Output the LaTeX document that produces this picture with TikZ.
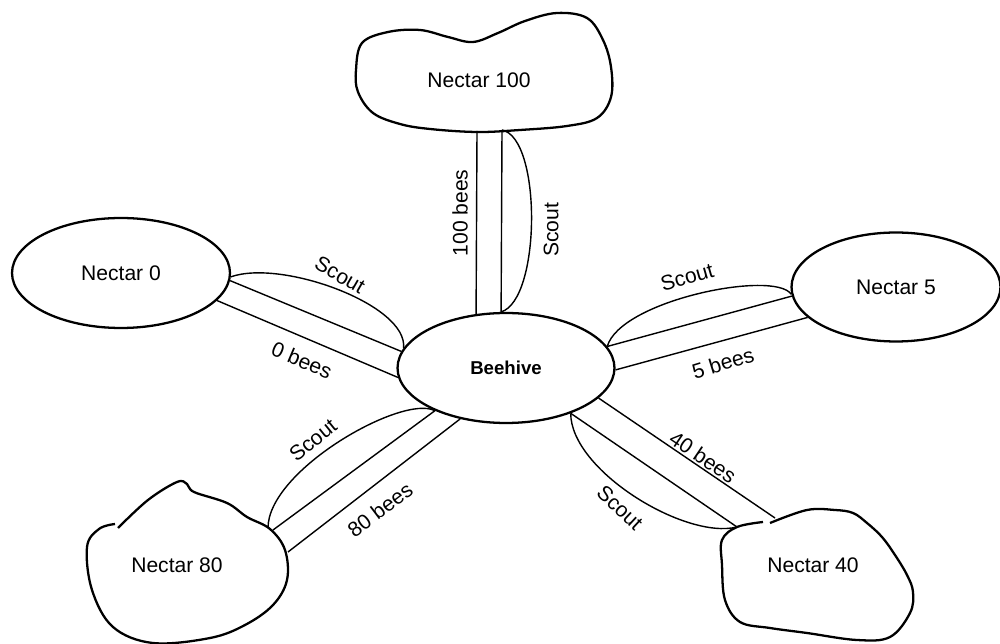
\documentclass[tikz,border=0pt]{standalone}
\usepackage{fontspec}
\setmainfont{Liberation Sans}
\usetikzlibrary{shapes.geometric}

\begin{document}
\begin{tikzpicture}[x=0.02cm,y=-0.02cm,
    every node/.style={font=\fontsize{12}{14}\selectfont},
    field/.style={ellipse, draw, line width=1.3pt, inner sep=0pt},
    hive/.style={field, minimum width=4.34cm, minimum height=2.2cm,
      font=\fontsize{10.6}{12}\selectfont\bfseries},
    outline/.style={line width=1.3pt},
    link/.style={line width=0.8pt}
   ]
   \useasboundingbox (0,0) rectangle (1000,644);

   \node[hive] (hive) at (506,368) {Beehive};
   \node[field, minimum width=4.36cm, minimum height=2.2cm] (n0) at (121,273) {Nectar 0};
   \node[field, minimum width=4.18cm, minimum height=2.18cm] (n5) at (896,287) {Nectar 5};
   \node (n100) at (479,80) {Nectar 100};
   \node (n80) at (177,565) {Nectar 80};
   \node (n40) at (813,565) {Nectar 40};

   % hand drawn fields
   \draw[outline] plot[smooth cycle, tension=0.6] coordinates {
     (356,70) (362,43) (388,32) (420,30) (448,37) (473,42) (498,33)
     (525,21) (557,13) (587,18) (603,40) (611,67) (611,97) (597,118)
     (567,126) (520,130) (477,132) (430,129) (400,124) (373,113) (358,92)};
   \draw[outline] plot[smooth, tension=0.6] coordinates {
     (118,528) (148,500) (177,482) (187,484) (194,492) (227,503) (247,517)
     (270,529) (285,550) (287,580) (273,605) (245,625) (210,638) (153,643)
     (113,627) (92,590) (87,547) (99,529) (115,524)};
   \draw[outline] plot[smooth, tension=0.6] coordinates {
     (770,523) (807,510) (835,510) (853,513) (867,523) (882,537) (895,555)
     (907,575) (913,592) (910,613) (890,637) (857,640) (807,633) (770,628)
     (740,622) (725,600) (722,565) (722,540) (737,527) (763,522)};

   \coordinate (n100-l) at (477,131);
   \coordinate (n100-r) at (502,130);
   \coordinate (n80-a) at (268,528);
   \coordinate (n80-b) at (273,530);
   \coordinate (n80-c) at (288,552);
   \coordinate (n40-a) at (737,527);
   \coordinate (n40-b) at (775,518);

   % paths
   \draw[link] (n100-l) -- (hive.119);
   \draw[link] (n100-r) -- (hive.95);
   \draw[link] (n100-r) .. controls +(40,8) and +(40,-12) .. (hive.95);

   \draw[link] (n0.-4) -- (hive.171);
   \draw[link] (n0.-16) -- (hive.185);
   \draw[link] (n0.-2) .. controls +(51,-18) and +(5,-43) .. (hive.169);

   \draw[link] (hive.12) -- (n5.185);
   \draw[link] (hive.-1) -- (n5.199);
   \draw[link] (hive.12) .. controls +(13,-46) and +(-17,-25) .. (n5.184);

   \draw[link] (n80-b) -- (hive.211);
   \draw[link] (n80-c) -- (hive.228);
   \draw[link] (n80-a) .. controls +(0,-58) and +(-32,-17) .. (hive.211);

   \draw[link] (hive.-18) -- (n40-b);
   \draw[link] (hive.-35) -- (n40-a);
   \draw[link] (hive.-35) .. controls +(0,57) and +(-52,13) .. (n40-a);

   % labels
   \node[rotate=90] (b100) at (460,213) {100 bees};
   \node[rotate=90] (s100) at (551,230) {Scout};
   \node[rotate=-30] (s0) at (340,275) {Scout};
   \node[rotate=-23] (b0) at (302,360) {0 bees};
   \node[rotate=16] (s5) at (687,277) {Scout};
   \node[rotate=17] (b5) at (723,363) {5 bees};
   \node[rotate=39] (s80) at (313,440) {Scout};
   \node[rotate=37] (b80) at (380,510) {80 bees};
   \node[rotate=-34] (b40) at (703,457) {40 bees};
   \node[rotate=-43] (s40) at (620,508) {Scout};
  \end{tikzpicture}
\end{document}
